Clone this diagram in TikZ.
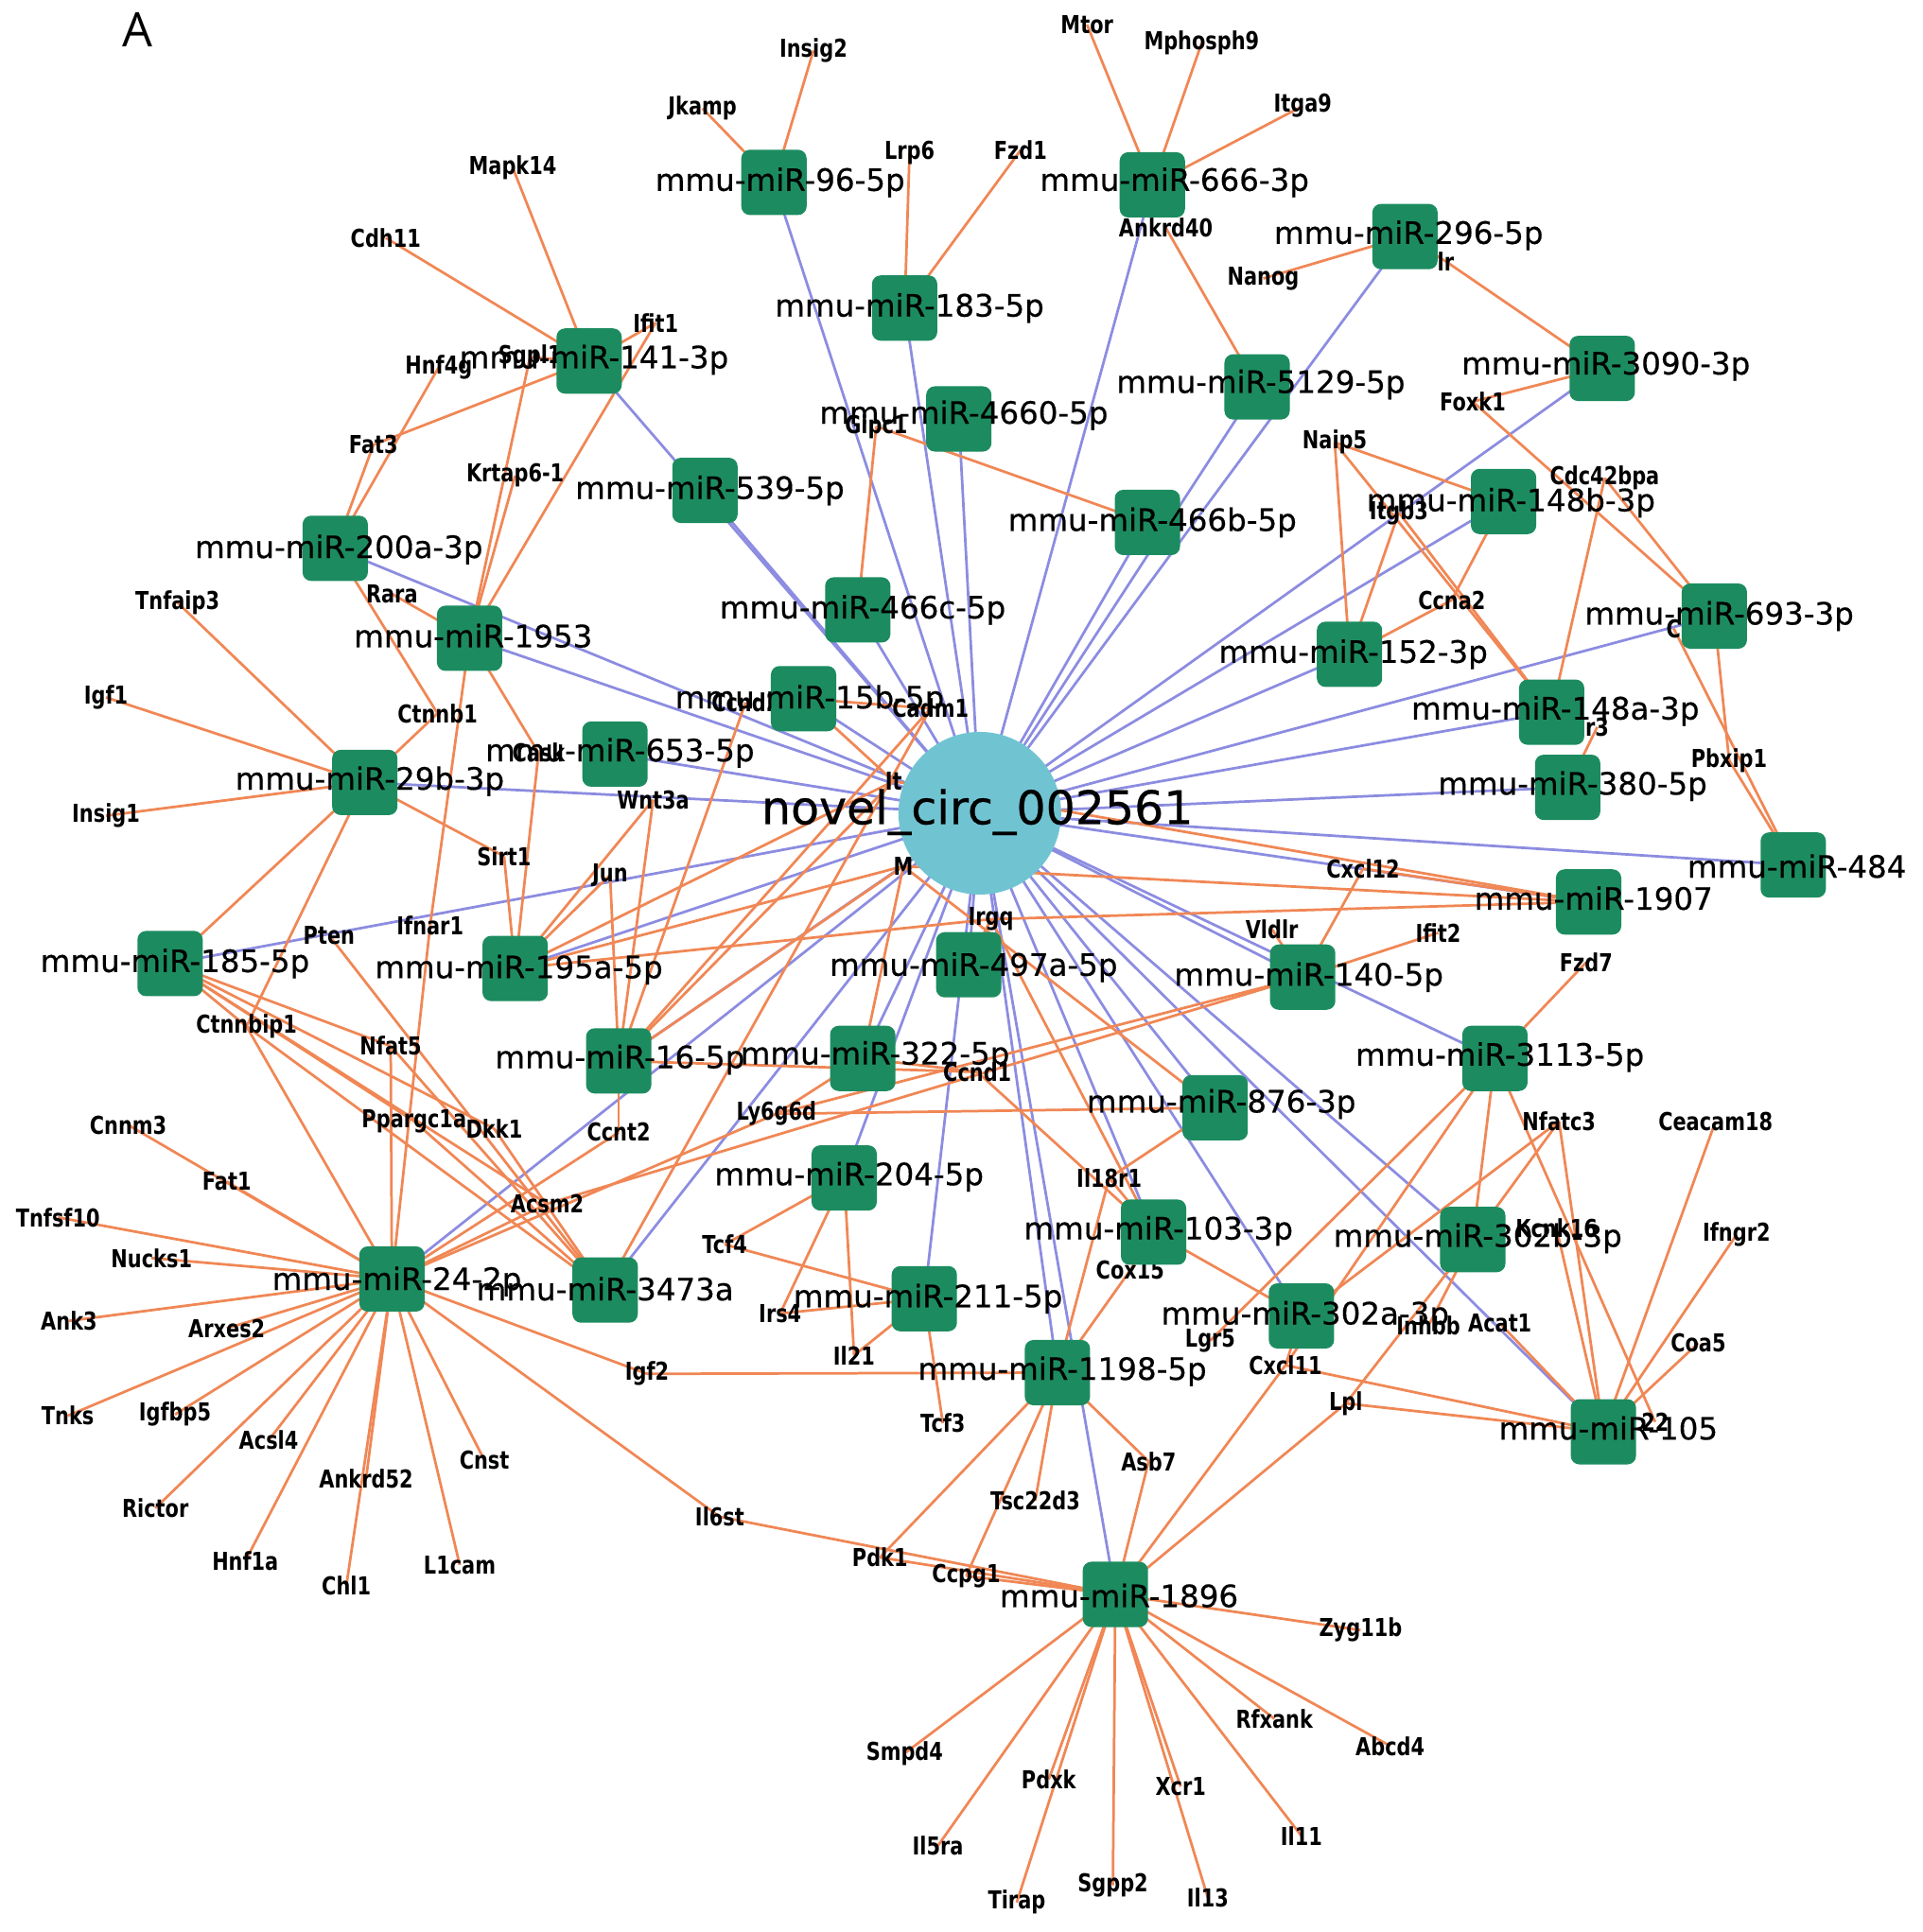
\documentclass[tikz,border=0pt]{standalone}
\usepackage{fontspec}
\setmainfont{DejaVu Sans}
\newfontfamily\mirfont[FakeBold=0.5]{DejaVu Sans}
\newfontfamily\genefont[FakeStretch=0.8]{DejaVu Sans}
\newfontfamily\afont{Open Sans}
\definecolor{sqgreen}{RGB}{28,140,96}
\definecolor{circfill}{RGB}{112,196,210}
\definecolor{bluee}{RGB}{140,140,225}
\definecolor{orangee}{RGB}{240,135,85}
\pgfdeclarelayer{edges}
\pgfdeclarelayer{genes}
\pgfdeclarelayer{labels}
\pgfsetlayers{edges,genes,main,labels}
\tikzset{
 mir/.style={fill=sqgreen, rounded corners=0.7mm, minimum size=5.3mm, inner sep=0pt},
 mlab/.style={inner sep=0pt, font=\mirfont\fontsize{7.1}{8}\selectfont},
 gene/.style={inner sep=0pt, font=\genefont\bfseries\fontsize{5.7}{6}\selectfont},
 circ/.style={circle, fill=circfill, minimum size=13.2mm, inner sep=0pt},
 clab/.style={inner sep=0pt, font=\mirfont\fontsize{10.7}{12}\selectfont},
 be/.style={draw=bluee, line width=0.6pt},
 oe/.style={draw=orangee, line width=0.6pt},
}
\begin{document}
\begin{tikzpicture}[x=0.1mm,y=-0.1mm]
\path[use as bounding box] (0,0) rectangle (1560,1568);
\node[inner sep=0pt, font=\afont\fontsize{11}{13}\selectfont] (lblA) at (112,24) {A};

% ---------- gene labels ----------
\begin{pgfonlayer}{genes}
\node[gene] (gInsig2) at (660,41) {Insig2};
\node[gene] (gJkamp) at (570,88) {Jkamp};
\node[gene] (gLrp6) at (738,124) {Lrp6};
\node[gene] (gFzd1) at (828,122) {Fzd1};
\node[gene] (gMtor) at (882,20) {Mtor};
\node[gene] (gMphosph9) at (975,35) {Mphosph9};
\node[gene] (gItga9) at (1057,86) {Itga9};
\node[gene] (gAnkrd40) at (946,185) {Ankrd40};
\node[gene] (gNanog) at (1025,226) {Nanog};
\node[gene] (gLr) at (1173,212) {lr};
\node[gene] (gMapk14) at (416,136) {Mapk14};
\node[gene] (gCdh11) at (313,193) {Cdh11};
\node[gene] (gIfit1) at (532,262) {Ifit1};
\node[gene] (gHnf4g) at (356,298) {Hnf4g};
\node[gene] (gSgpl1) at (430,290) {Sgpl1};
\node[gene] (gFat3) at (303,361) {Fat3};
\node[gene] (gKrtap61) at (418,386) {Krtap6-1};
\node[gene] (gGipc1) at (711,346) {Gipc1};
\node[gene] (gFoxk1) at (1195,326) {Foxk1};
\node[gene] (gNaip5) at (1083,359) {Naip5};
\node[gene] (gCdc42bpa) at (1302,388) {Cdc42bpa};
\node[gene] (gItgb3) at (1135,416) {Itgb3};
\node[gene] (gRara) at (318,482) {Rara};
\node[gene] (gTnfaip3) at (144,489) {Tnfaip3};
\node[gene] (gCcna2) at (1178,487) {Ccna2};
\node[gene] (gC) at (1358,510) {C};
\node[gene] (gIgf1) at (86,566) {Igf1};
\node[gene] (gCtnnb1) at (355,579) {Ctnnb1};
\node[gene] (gG15b) at (605,570) {Ccnd2};
\node[gene] (gCadm1) at (755,575) {Cadm1};
\node[gene] (gR3) at (1296,590) {r3};
\node[gene] (gPbxip1) at (1403,617) {Pbxip1};
\node[gene] (gWnt3a) at (530,649) {Wnt3a};
\node[gene] (gInsig1) at (86,662) {Insig1};
\node[gene] (gIt) at (725,634) {It};
\node[gene] (gSirt1) at (409,695) {Sirt1};
\node[gene] (gJun) at (495,710) {Jun};
\node[gene] (gM) at (733,703) {M};
\node[gene] (gCxcl12) at (1106,705) {Cxcl12};
\node[gene] (gIrgq) at (804,746) {Irgq};
\node[gene] (gPten) at (267,759) {Pten};
\node[gene] (gIfnar1) at (349,751) {Ifnar1};
\node[gene] (gVldlr) at (1032,754) {Vldlr};
\node[gene] (gIfit2) at (1167,757) {Ifit2};
\node[gene] (gFzd7) at (1287,781) {Fzd7};
\node[gene] (gCtnnbip1) at (200,833) {Ctnnbip1};
\node[gene] (gNfat5) at (317,849) {Nfat5};
\node[gene] (gCcnd1) at (793,870) {Ccnd1};
\node[gene] (gPpargc1a) at (336,910) {Ppargc1a};
\node[gene] (gDkk1) at (401,916) {Dkk1};
\node[gene] (gCcnt2) at (502,919) {Ccnt2};
\node[gene] (gLy6g6d) at (630,904) {Ly6g6d};
\node[gene] (gNfatc3) at (1265,910) {Nfatc3};
\node[gene] (gCeacam18) at (1392,910) {Ceacam18};
\node[gene] (gCnnm3) at (104,913) {Cnnm3};
\node[gene] (gIl18r1) at (900,956) {Il18r1};
\node[gene] (gFat1) at (184,959) {Fat1};
\node[gene] (gAcsm2) at (444,977) {Acsm2};
\node[gene] (gTnfsf10) at (47,988) {Tnfsf10};
\node[gene] (gIfngr2) at (1409,1002) {Ifngr2};
\node[gene] (gG302b) at (1263,997) {Kcnk16};
\node[gene] (gTcf4) at (588,1010) {Tcf4};
\node[gene] (gNucks1) at (123,1021) {Nucks1};
\node[gene] (gCox15) at (917,1031) {Cox15};
\node[gene] (gAnk3) at (56,1072) {Ank3};
\node[gene] (gArxes2) at (184,1078) {Arxes2};
\node[gene] (gIrs4) at (633,1066) {Irs4};
\node[gene] (gLgr5) at (982,1088) {Lgr5};
\node[gene] (gInhbb) at (1159,1076) {Inhbb};
\node[gene] (gAcat1) at (1217,1074) {Acat1};
\node[gene] (gCoa5) at (1378,1090) {Coa5};
\node[gene] (gCxcl11) at (1043,1108) {Cxcl11};
\node[gene] (gIgf2) at (525,1115) {Igf2};
\node[gene] (gIl21) at (693,1100) {Il21};
\node[gene] (gLpl) at (1092,1139) {Lpl};
\node[gene] (gTnks) at (55,1149) {Tnks};
\node[gene] (gIgfbp5) at (142,1148) {Igfbp5};
\node[gene] (gAcsl4) at (218,1169) {Acsl4};
\node[gene] (gTcf3) at (765,1155) {Tcf3};
\node[gene] (gCnst) at (393,1185) {Cnst};
\node[gene] (gAnkrd52) at (297,1200) {Ankrd52};
\node[gene] (gAsb7) at (932,1186) {Asb7};
\node[gene] (gRictor) at (126,1224) {Rictor};
\node[gene] (gTsc22d3) at (840,1218) {Tsc22d3};
\node[gene] (gIl6st) at (584,1231) {Il6st};
\node[gene] (gPdk1) at (714,1264) {Pdk1};
\node[gene] (gHnf1a) at (199,1267) {Hnf1a};
\node[gene] (gChl1) at (281,1287) {Chl1};
\node[gene] (gL1cam) at (373,1270) {L1cam};
\node[gene] (gCcpg1) at (784,1279) {Ccpg1};
\node[gene] (gG105) at (1343,1154) {22};
\node[gene] (gZyg11b) at (1104,1323) {Zyg11b};
\node[gene] (gRfxank) at (1034,1395) {Rfxank};
\node[gene] (gAbcd4) at (1128,1417) {Abcd4};
\node[gene] (gSmpd4) at (734,1423) {Smpd4};
\node[gene] (gPdxk) at (851,1444) {Pdxk};
\node[gene] (gXcr1) at (958,1450) {Xcr1};
\node[gene] (gIl11) at (1056,1490) {Il11};
\node[gene] (gIl5ra) at (761,1498) {Il5ra};
\node[gene] (gTirap) at (825,1544) {Tirap};
\node[gene] (gSgpp2) at (903,1530) {Sgpp2};
\node[gene] (gIl13) at (980,1540) {Il13};
\node[gene] (gG653) at (437,611) {Cask};
\end{pgfonlayer}

% ---------- miRNA squares and centre ----------
\node[circ] (c) at (795,660) {};
\node[mir] (m96) at (628,148) {};
\node[mir] (m666) at (935,150) {};
\node[mir] (m296) at (1140,192) {};
\node[mir] (m183) at (734,250) {};
\node[mir] (m141) at (478,293) {};
\node[mir] (m3090) at (1300,299) {};
\node[mir] (m5129) at (1020,314) {};
\node[mir] (m4660) at (778,340) {};
\node[mir] (m539) at (572,398) {};
\node[mir] (m148b) at (1220,407) {};
\node[mir] (m466b) at (931,424) {};
\node[mir] (m200a) at (272,445) {};
\node[mir] (m466c) at (696,495) {};
\node[mir] (m693) at (1391,500) {};
\node[mir] (m1953) at (381,518) {};
\node[mir] (m152) at (1095,531) {};
\node[mir] (m15b) at (652,567) {};
\node[mir] (m148a) at (1259,578) {};
\node[mir] (m653) at (499,612) {};
\node[mir] (m29b) at (296,635) {};
\node[mir] (m380) at (1272,639) {};
\node[mir] (m484) at (1455,702) {};
\node[mir] (m1907) at (1289,732) {};
\node[mir] (m185) at (138,782) {};
\node[mir] (m195a) at (418,786) {};
\node[mir] (m497a) at (786,783) {};
\node[mir] (m140) at (1057,793) {};
\node[mir] (m16) at (502,861) {};
\node[mir] (m322) at (700,859) {};
\node[mir] (m3113) at (1213,859) {};
\node[mir] (m876) at (986,899) {};
\node[mir] (m204) at (685,956) {};
\node[mir] (m103) at (936,1000) {};
\node[mir] (m302b) at (1195,1006) {};
\node[mir] (m24) at (318,1038) {};
\node[mir] (m3473a) at (491,1047) {};
\node[mir] (m211) at (750,1054) {};
\node[mir] (m302a) at (1056,1068) {};
\node[mir] (m1198) at (858,1114) {};
\node[mir] (m105) at (1301,1162) {};
\node[mir] (m1896) at (905,1294) {};

% ---------- labels ----------
\begin{pgfonlayer}{labels}
\node[clab] (cl) at (793,659) {novel\_circ\_002561};
\node[mlab] (l96) at (633,148) {mmu-miR-96-5p};
\node[mlab] (l666) at (953,148) {mmu-miR-666-3p};
\node[mlab] (l296) at (1143,191) {mmu-miR-296-5p};
\node[mlab] (l183) at (738,250) {mmu-miR-183-5p};
\node[mlab] (l141) at (482,292) {mmu-miR-141-3p};
\node[mlab] (l3090) at (1303,297) {mmu-miR-3090-3p};
\node[mlab] (l5129) at (1023,312) {mmu-miR-5129-5p};
\node[mlab] (l4660) at (782,337) {mmu-miR-4660-5p};
\node[mlab] (l539) at (576,398) {mmu-miR-539-5p};
\node[mlab] (l148b) at (1226,408) {mmu-miR-148b-3p};
\node[mlab] (l466b) at (935,424) {mmu-miR-466b-5p};
\node[mlab] (l200a) at (275,446) {mmu-miR-200a-3p};
\node[mlab] (l466c) at (700,495) {mmu-miR-466c-5p};
\node[mlab] (l693) at (1395,500) {mmu-miR-693-3p};
\node[mlab] (l1953) at (384,516) {mmu-miR-1953};
\node[mlab] (l152) at (1098,531) {mmu-miR-152-3p};
\node[mlab] (l15b) at (657,568) {mmu-miR-15b-5p};
\node[mlab] (l148a) at (1262,577) {mmu-miR-148a-3p};
\node[mlab] (l653) at (503,611) {mmu-miR-653-5p};
\node[mlab] (l29b) at (300,634) {mmu-miR-29b-3p};
\node[mlab] (l380) at (1276,638) {mmu-miR-380-5p};
\node[mlab] (l484) at (1458,703) {mmu-miR-484};
\node[mlab] (l1907) at (1293,729) {mmu-miR-1907};
\node[mlab] (l185) at (142,782) {mmu-miR-185-5p};
\node[mlab] (l195a) at (421,787) {mmu-miR-195a-5p};
\node[mlab] (l497a) at (790,785) {mmu-miR-497a-5p};
\node[mlab] (l140) at (1062,793) {mmu-miR-140-5p};
\node[mlab] (l16) at (503,860) {mmu-miR-16-5p};
\node[mlab] (l322) at (710,857) {mmu-miR-322-5p};
\node[mlab] (l3113) at (1217,858) {mmu-miR-3113-5p};
\node[mlab] (l876) at (991,896) {mmu-miR-876-3p};
\node[mlab] (l204) at (689,955) {mmu-miR-204-5p};
\node[mlab] (l103) at (940,999) {mmu-miR-103-3p};
\node[mlab] (l302b) at (1199,1005) {mmu-miR-302b-3p};
\node[mlab] (l24) at (322,1040) {mmu-miR-24-2p};
\node[mlab] (l3473a) at (491,1046) {mmu-miR-3473a};
\node[mlab] (l211) at (753,1054) {mmu-miR-211-5p};
\node[mlab] (l302a) at (1059,1068) {mmu-miR-302a-3p};
\node[mlab] (l1198) at (862,1113) {mmu-miR-1198-5p};
\node[mlab] (l105) at (1305,1159) {mmu-miR-105};
\node[mlab] (l1896) at (908,1295) {mmu-miR-1896};
\end{pgfonlayer}

% ---------- edges ----------
\begin{pgfonlayer}{edges}
\foreach \m in {m96,m666,m296,m183,m141,m3090,m5129,m4660,m539,m148b,m466b,m200a,m466c,m693,m1953,m152,m15b,m148a,m653,m29b,m380,m484,m1907,m185,m195a,m497a,m140,m16,m322,m3113,m876,m204,m103,m302b,m24,m3473a,m211,m302a,m1198,m105,m1896}
  \draw[be] (c.center) -- (\m.center);
\foreach \a/\b in {
 gInsig2/m96, gJkamp/m96, gLrp6/m183, gFzd1/m183,
 gMtor/m666, gMphosph9/m666, gItga9/m666, gAnkrd40/m5129,
 gNanog/m296, gLr/m296, gLr/m3090, gFoxk1/m3090,
 gFoxk1/m693, gCdc42bpa/m693, gPbxip1/m693, gC/m484, gPbxip1/m484,
 gGipc1/m466c, gGipc1/m466b,
 gMapk14/m141, gCdh11/m141, gIfit1/m141, gFat3/m141, gSgpl1/m141,
 gHnf4g/m200a, gFat3/m200a, gCtnnb1/m200a,
 gKrtap61/m1953, gSgpl1/m1953, gIfit1/m1953, gRara/m1953, gIfnar1/m1953, gG653/m1953,
 gTnfaip3/m29b, gIgf1/m29b, gInsig1/m29b, gCtnnb1/m29b, gSirt1/m29b, gCtnnbip1/m29b, m185/m29b,
 gNaip5/m152, gItgb3/m152, gCcna2/m152, gNaip5/m148b, gCcna2/m148b,
 gNaip5/m148a, gItgb3/m148a, gCdc42bpa/m148a, gR3/m380,
 gCxcl12/m140, gIfit2/m140, gVldlr/m140, gAcsm2/m140, gLy6g6d/m140,
 gCxcl12/m1907, gIt/m1907, gM/m1907, gIrgq/m1907,
 gFzd7/m3113, gLgr5/m3113, gCxcl11/m3113, m302b/m3113, gG105/m3113,
 gNfatc3/m302b, gLpl/m302b, gInhbb/m302b,
 gNfatc3/m302a, gCxcl11/m302a, m103/m302a,
 gNfatc3/m105, gCeacam18/m105, gIfngr2/m105, gCoa5/m105, gLpl/m105, gCxcl11/m105, gAcat1/m105, gG302b/m105,
 gSirt1/m195a, gG653/m195a, gWnt3a/m195a, gJun/m195a, gIt/m195a, gM/m195a, gIrgq/m195a,
 gWnt3a/m16, gJun/m16, gG15b/m16, gCcnt2/m16, gIt/m16, gM/m16, gCadm1/m16, gCcnd1/m16,
 gIt/m15b, gCadm1/m15b,
 gLy6g6d/m322, gCcnd1/m322, gM/m322, gIrgq/m497a,
 gNfat5/m185, gPpargc1a/m185, gDkk1/m185, gAcsm2/m185, gCtnnbip1/m185,
 gPten/m3473a, gNfat5/m3473a, gPpargc1a/m3473a, gDkk1/m3473a, gCtnnbip1/m3473a, gCadm1/m3473a,
 gNfat5/m24, gIfnar1/m24, gCtnnbip1/m24, gCnnm3/m24, gFat1/m24, gTnfsf10/m24, gNucks1/m24,
 gAnk3/m24, gArxes2/m24, gTnks/m24, gIgfbp5/m24, gAcsl4/m24, gRictor/m24, gHnf1a/m24,
 gChl1/m24, gAnkrd52/m24, gL1cam/m24, gCnst/m24, gIl6st/m24, gIgf2/m24, gLy6g6d/m24,
 gCcnt2/m24, gAcsm2/m24,
 gTcf4/m204, gIrs4/m204, gIl21/m204, gTcf4/m211, gIrs4/m211, gIl21/m211, gTcf3/m211,
 gIl18r1/m103, gCcnd1/m103, gIrgq/m103, gCox15/m103,
 gLy6g6d/m876, gIl18r1/m876, gM/m876,
 gIgf2/m1198, gIl18r1/m1198, gCox15/m1198, gPdk1/m1198, gCcpg1/m1198, gTsc22d3/m1198, gAsb7/m1198,
 gIl6st/m1896, gPdk1/m1896, gCcpg1/m1896, gAsb7/m1896, gLpl/m1896, gCxcl11/m1896,
 gZyg11b/m1896, gRfxank/m1896, gAbcd4/m1896, gSmpd4/m1896, gPdxk/m1896, gXcr1/m1896,
 gIl11/m1896, gIl5ra/m1896, gTirap/m1896, gSgpp2/m1896, gIl13/m1896}
  \draw[oe] (\a.center) -- (\b.center);
\end{pgfonlayer}
\end{tikzpicture}
\end{document}
